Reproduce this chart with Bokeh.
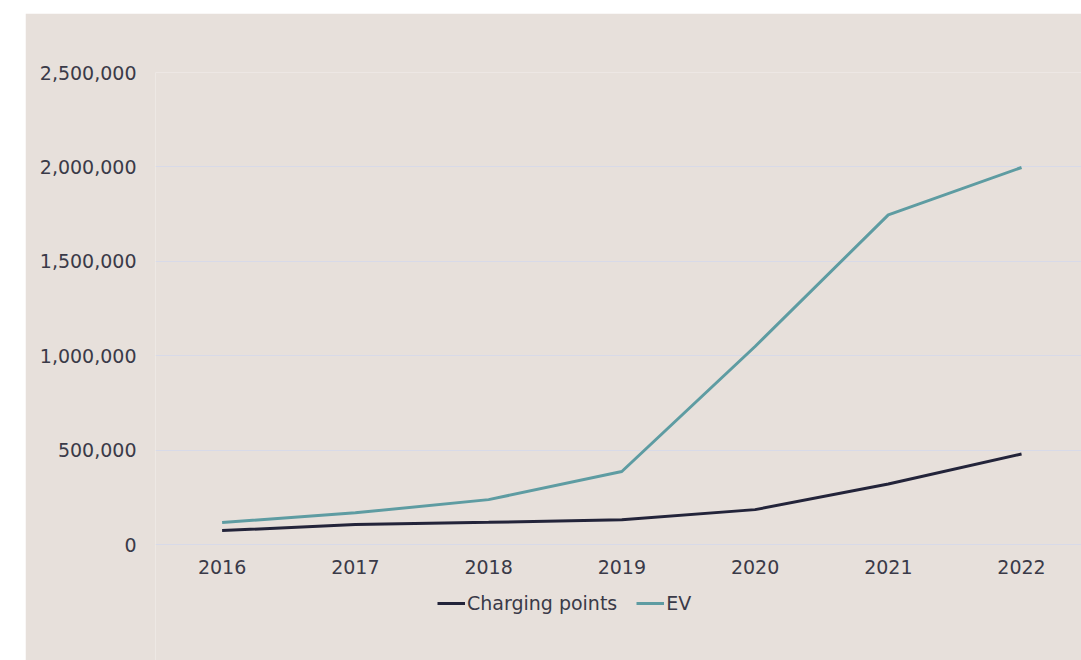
from bokeh.plotting import figure
from bokeh.models import (ColumnDataSource, NumeralTickFormatter, FixedTicker,
                          Legend, LegendItem, Range1d, Spacer)
from bokeh.layouts import row, column
from bokeh.embed import file_html
from bokeh.resources import INLINE

# Annual figures
years = [2016, 2017, 2018, 2019, 2020, 2021, 2022]
charging_points = [74000, 106000, 118000, 131000, 185000, 321000, 480000]
ev = [117000, 168000, 238000, 387000, 1049000, 1746000, 1997000]
y_ticks = [0, 500000, 1000000, 1500000, 2000000, 2500000]

BG = "#E7E0DB"
TEXT = "#3A3A48"
FONT = "DejaVu Sans"
FSIZE = "19px"

src = ColumnDataSource(dict(year=years, cp=charging_points, ev=ev))

# the frame runs down to the bottom edge so the legend can sit beneath the
# year labels; the x axis is pinned to y = 0
p = figure(width=1056, height=647, output_backend="svg", toolbar_location=None,
           x_range=Range1d(2015.5, 2022.45), y_range=Range1d(-614000, 2500000),
           min_border_left=130, min_border_right=0, min_border_top=59,
           min_border_bottom=0)
p.background_fill_color = BG
p.border_fill_color = BG
p.outline_line_color = None

r_cp = p.line("year", "cp", source=src, line_color="#23243A", line_width=3)
r_ev = p.line("year", "ev", source=src, line_color="#5E9CA2", line_width=3)

p.xgrid.grid_line_color = None
p.ygrid.grid_line_color = "#D8DAE8"
p.ygrid.grid_line_width = 1

p.yaxis.ticker = FixedTicker(ticks=y_ticks)
p.yaxis.formatter = NumeralTickFormatter(format="0,0")
p.xaxis.ticker = FixedTicker(ticks=years)
p.xaxis.fixed_location = 0

for ax in (p.xaxis[0], p.yaxis[0]):
    ax.axis_line_color = None
    ax.major_tick_line_color = None
    ax.minor_tick_line_color = None
    ax.major_label_text_font = FONT
    ax.major_label_text_font_size = FSIZE
    ax.major_label_text_color = TEXT
p.yaxis.major_label_standoff = 13
p.xaxis.major_label_standoff = 9

legend = Legend(items=[LegendItem(label="Charging points", renderers=[r_cp]),
                       LegendItem(label="EV", renderers=[r_ev])],
                orientation="horizontal", location=(282, 46),
                padding=0, margin=0, spacing=19, glyph_width=28,
                glyph_height=20, label_standoff=2,
                label_text_font=FONT, label_text_font_size=FSIZE,
                label_text_color=TEXT, background_fill_alpha=0,
                border_line_color=None)
p.add_layout(legend)

page = row(Spacer(width=25), column(Spacer(height=13), p))
open("out.html", "w").write(file_html(page, INLINE))
